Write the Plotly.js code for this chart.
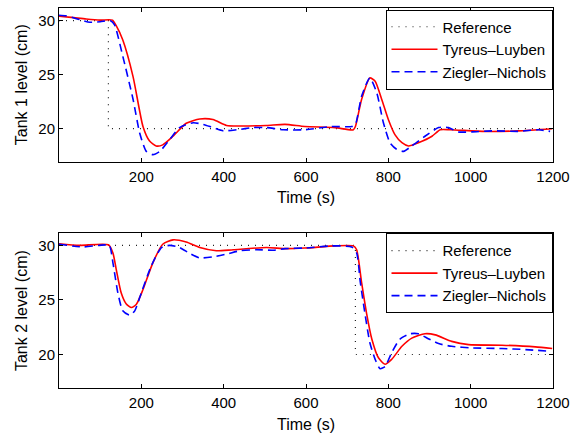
<!DOCTYPE html>
<html>
<head>
<meta charset="utf-8">
<script src="https://cdn.plot.ly/plotly-3.0.1.min.js"></script>
<style>html,body{margin:0;padding:0;background:#fff;}#chart{width:575px;height:434px;}</style>
</head>
<body>
<div id="chart"></div>
<script>
// Tank 1 reference
var ref1T = [0, 120, 120, 1200];
var ref1Y = [30, 30, 20, 20];
// Tank 2 reference
var ref2T = [0, 720, 720, 1200];
var ref2Y = [30, 30, 20, 20];

// Tank 1 - Tyreus-Luyben
var tl1T = [0, 30, 66, 100, 130, 138, 155, 180, 204, 220, 236, 252, 277, 309, 342, 374, 407, 439, 504, 549, 597, 670, 715, 720, 735, 755, 768, 784, 800, 816, 833, 849, 873, 906, 926, 950, 1035, 1116, 1198];
var tl1Y = [30.4, 30.3, 30.15, 30.05, 30.05, 29.6, 28.2, 24.8, 20.2, 18.85, 18.4, 18.5, 19.3, 20.5, 20.9, 20.85, 20.3, 20.25, 20.3, 20.4, 20.2, 20.1, 19.9, 20.2, 22.7, 24.7, 24.4, 22.7, 20.85, 19.45, 18.7, 18.4, 18.7, 19.3, 19.9, 19.9, 19.75, 19.8, 20.0];
// Tank 1 - Ziegler-Nichols
var zn1T = [0, 17, 50, 75, 100, 125, 135, 155, 180, 196, 212, 228, 245, 269, 293, 326, 350, 374, 399, 432, 472, 504, 545, 597, 662, 711, 720, 735, 755, 772, 788, 804, 820, 837, 857, 889, 922, 946, 970, 1003, 1052, 1116, 1165, 1193];
var zn1Y = [30.5, 30.45, 30.1, 29.85, 29.9, 30.0, 29.6, 26.7, 22.7, 19.6, 17.9, 17.6, 17.9, 19.0, 20.1, 20.55, 20.4, 20.1, 19.8, 19.9, 20.1, 20.1, 19.9, 19.9, 20.2, 20.2, 20.4, 23.0, 24.7, 23.3, 20.55, 18.7, 18.1, 17.9, 18.4, 19.3, 20.1, 20.1, 19.7, 19.7, 19.8, 19.75, 19.9, 19.75];

// Tank 2 - Tyreus-Luyben
var tl2T = [0, 50, 120, 131, 139, 151, 163, 176, 188, 204, 228, 252, 277, 309, 342, 382, 423, 504, 549, 597, 670, 715, 723, 735, 747, 760, 776, 792, 808, 833, 857, 889, 914, 954, 995, 1076, 1157, 1198];
var tl2Y = [30.15, 30.0, 30.05, 29.3, 27.8, 25.65, 24.65, 24.3, 24.6, 25.95, 28.4, 30.1, 30.5, 30.3, 29.8, 29.5, 29.6, 29.8, 29.7, 29.75, 29.95, 29.95, 29.6, 26.6, 23.8, 21.4, 19.7, 19.1, 19.55, 20.75, 21.5, 21.9, 21.8, 21.2, 20.9, 20.85, 20.7, 20.55];
// Tank 2 - Ziegler-Nichols
var zn2T = [0, 58, 98, 122, 131, 143, 155, 172, 184, 200, 224, 249, 269, 293, 318, 342, 374, 407, 439, 480, 520, 549, 597, 662, 711, 723, 732, 743, 755, 768, 780, 792, 808, 828, 853, 873, 897, 922, 954, 1003, 1076, 1133, 1193];
var zn2Y = [30.1, 29.85, 30.0, 30.0, 28.4, 25.65, 24.0, 23.6, 24.0, 25.65, 28.1, 29.8, 30.0, 29.8, 29.25, 28.85, 28.95, 29.2, 29.5, 29.6, 29.55, 29.7, 29.75, 29.95, 29.85, 29.3, 26.6, 23.8, 21.1, 19.55, 18.7, 18.9, 20.15, 21.4, 21.9, 21.9, 21.45, 21.0, 20.75, 20.6, 20.55, 20.45, 20.3];

var xTicks = [200, 400, 600, 800, 1000, 1200];
var yTicks = [20, 25, 30];
var names = ['Reference', 'Tyreus\u2013Luyben', 'Ziegler\u2013Nichols'];

var refStyle = {color: '#222222', width: 1.2, dash: '1px,6px'};
var tlStyle = {color: '#ff0000', width: 1.6, shape: 'spline', smoothing: 0.6};
var znStyle = {color: '#0000ff', width: 1.6, dash: '8px,5px', shape: 'spline', smoothing: 0.6};

var traces = [
  {x: ref1T, y: ref1Y, name: names[0], mode: 'lines', line: refStyle, xaxis: 'x', yaxis: 'y', legend: 'legend'},
  {x: tl1T, y: tl1Y, name: names[1], mode: 'lines', line: tlStyle, xaxis: 'x', yaxis: 'y', legend: 'legend'},
  {x: zn1T, y: zn1Y, name: names[2], mode: 'lines', line: znStyle, xaxis: 'x', yaxis: 'y', legend: 'legend'},
  {x: ref2T, y: ref2Y, name: names[0], mode: 'lines', line: refStyle, xaxis: 'x2', yaxis: 'y2', legend: 'legend2'},
  {x: tl2T, y: tl2Y, name: names[1], mode: 'lines', line: tlStyle, xaxis: 'x2', yaxis: 'y2', legend: 'legend2'},
  {x: zn2T, y: zn2Y, name: names[2], mode: 'lines', line: znStyle, xaxis: 'x2', yaxis: 'y2', legend: 'legend2'}
];

var tickFont = {family: 'Liberation Sans, Arial, sans-serif', size: 15, color: '#000'};
var titleFont = {family: 'Liberation Sans, Arial, sans-serif', size: 16, color: '#000'};
var legFont = {family: 'Liberation Sans, Arial, sans-serif', size: 15, color: '#000'};
function xAxis(anchor) {
  return {
    anchor: anchor, domain: [0, 1], range: [0, 1200], tickvals: xTicks, ticktext: xTicks.map(String),
    ticks: 'inside', ticklen: 4, tickcolor: '#000', showline: true, linecolor: '#000', linewidth: 1,
    mirror: 'ticks', showgrid: false, zeroline: false, tickfont: tickFont, ticklabelstandoff: 1,
    title: {text: 'Time (s)', font: titleFont, standoff: 8}
  };
}
function yAxis(anchor, domain, range, label) {
  return {
    anchor: anchor, domain: domain, range: range, tickvals: yTicks,
    ticks: 'inside', ticklen: 4, tickcolor: '#000', showline: true, linecolor: '#000', linewidth: 1,
    mirror: 'ticks', showgrid: false, zeroline: false, tickfont: tickFont,
    title: {text: label, font: titleFont, standoff: 6}
  };
}
var legendBase = {
  xanchor: 'right', yanchor: 'top', x: 0.999, bgcolor: '#fff', bordercolor: '#000', borderwidth: 1,
  font: legFont, itemwidth: 46, tracegroupgap: 0
};
var layout = {
  width: 575, height: 434,
  margin: {l: 59, r: 22, t: 8, b: 46},
  paper_bgcolor: '#fff', plot_bgcolor: '#fff',
  font: tickFont,
  xaxis: xAxis('y'),
  yaxis: yAxis('x', [0.596, 1], [16.96, 31.17], 'Tank 1 level (cm)'),
  xaxis2: xAxis('y2'),
  yaxis2: yAxis('x2', [0, 0.407], [16.93, 31.1], 'Tank 2 level (cm)'),
  legend: Object.assign({}, legendBase, {y: 0.996}),
  legend2: Object.assign({}, legendBase, {y: 0.407}),
  showlegend: true
};
Plotly.newPlot('chart', traces, layout, {staticPlot: true, displayModeBar: false});
</script>
</body>
</html>
